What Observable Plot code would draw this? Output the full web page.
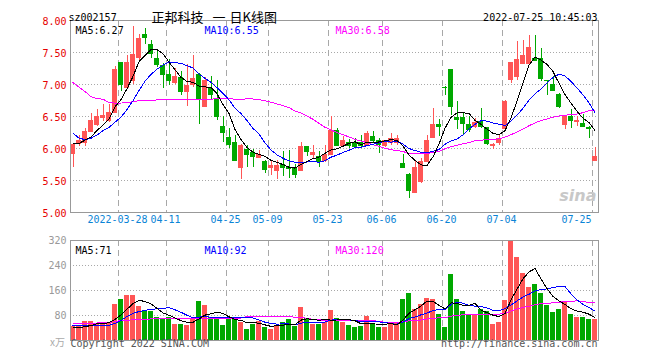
<!DOCTYPE html>
<html><head><meta charset="utf-8">
<script src="https://cdn.jsdelivr.net/npm/d3@7"></script>
<script src="https://cdn.jsdelivr.net/npm/@observablehq/plot@0.6"></script>
<style>
html,body{margin:0;padding:0;background:#fff;}
#wrap{position:relative;width:660px;height:360px;overflow:hidden;background:#fff;}
#wrap svg{position:absolute;left:0;}
#wrap svg rect,#wrap svg line,#wrap svg path{shape-rendering:crispEdges;}
</style></head>
<body><div id="wrap"></div>
<script>
// ---- data ----
const stockCode = "sz002157";
const titleParts = ["正邦科技", "一", "日K线图"];
const timeStamp = "2022-07-25 10:45:03";
const dates = ("03-16 03-17 03-18 03-21 03-22 03-23 03-24 03-25 03-28 03-29 03-30 03-31 " +
  "04-01 04-06 04-07 04-08 04-11 04-12 04-13 04-14 04-15 04-18 04-19 04-20 04-21 04-22 04-25 04-26 04-27 04-28 04-29 " +
  "05-05 05-06 05-09 05-10 05-11 05-12 05-13 05-16 05-17 05-18 05-19 05-20 05-23 05-24 05-25 05-26 05-27 05-30 05-31 " +
  "06-01 06-02 06-06 06-07 06-08 06-09 06-10 06-13 06-14 06-15 06-16 06-17 06-20 06-21 06-22 06-23 06-24 06-27 06-28 06-29 06-30 " +
  "07-01 07-04 07-05 07-06 07-07 07-08 07-11 07-12 07-13 07-14 07-15 07-18 07-19 07-20 07-21 07-22 07-25")
  .split(" ").map(d => "2022-" + d);
const opens = [5.92,6.08,6.10,6.27,6.37,6.49,6.43,6.57,7.35,6.96,
  7.07,7.42,7.78,7.62,7.41,7.29,7.15,7.03,7.11,6.89,
  7.00,7.16,6.65,6.93,6.76,6.34,6.17,6.09,5.71,5.98,
  5.93,5.86,5.79,5.70,5.66,5.75,5.71,5.68,5.65,6.03,
  5.91,5.88,5.82,5.90,6.28,6.05,6.10,6.10,6.10,6.05,
  6.19,6.13,6.05,6.10,6.10,5.76,5.59,5.32,5.48,5.79,
  6.17,6.37,6.96,7.23,6.48,6.48,6.37,6.35,6.42,6.33,
  6.04,6.09,6.31,7.08,7.12,7.33,7.33,7.41,7.41,7.07,
  7.00,6.85,6.38,6.50,6.42,6.39,6.33,5.82];
const highs = [6.08,6.20,6.31,6.55,6.61,6.69,6.68,7.28,7.35,7.46,
  7.91,7.78,7.88,7.69,7.53,7.33,7.39,7.25,7.21,7.31,
  7.46,7.17,7.11,7.13,7.07,6.50,6.31,6.21,6.06,6.04,
  5.98,5.97,5.82,5.82,5.82,5.95,5.97,5.75,6.10,6.03,
  6.04,5.95,6.04,6.50,6.31,6.18,6.14,6.15,6.20,6.27,
  6.27,6.15,6.13,6.24,6.20,5.90,5.61,5.79,5.84,6.21,
  6.62,6.46,6.97,7.23,6.74,6.57,6.50,6.47,6.62,6.33,
  6.08,6.21,6.75,7.34,7.67,7.69,7.77,7.76,7.56,7.07,
  7.13,6.86,6.50,6.61,6.50,6.53,6.35,6.01];
const lows = [5.70,6.03,6.03,6.26,6.35,6.42,6.40,6.55,6.89,6.94,
  7.00,7.38,7.62,7.41,7.26,6.94,6.99,7.00,6.83,6.66,
  6.95,6.38,6.64,6.76,6.44,6.09,6.00,5.79,5.52,5.71,
  5.71,5.85,5.61,5.58,5.51,5.56,5.53,5.53,5.64,5.87,
  5.85,5.71,5.78,5.89,6.03,6.04,6.00,6.00,6.02,6.03,
  6.10,5.92,6.02,6.04,6.05,5.70,5.22,5.30,5.46,5.78,
  6.17,6.18,6.83,6.52,6.29,6.21,6.25,6.31,6.31,6.04,
  5.98,6.05,6.29,7.02,7.06,7.32,7.32,7.37,7.05,6.83,
  6.89,6.63,6.30,6.31,6.34,6.33,6.16,5.81];
const closes = [6.07,6.13,6.27,6.43,6.50,6.51,6.57,7.24,7.00,7.35,
  7.47,7.72,7.73,7.48,7.32,7.15,7.07,7.13,6.89,6.99,
  7.10,6.76,7.07,6.85,6.50,6.25,6.07,5.82,6.05,5.90,
  5.87,5.90,5.67,5.74,5.73,5.71,5.69,5.60,6.03,5.95,
  5.94,5.80,5.91,6.28,6.05,6.13,6.04,6.03,6.05,6.23,
  6.13,6.07,6.12,6.15,6.16,5.71,5.35,5.71,5.79,6.12,
  6.38,6.34,6.95,6.65,6.46,6.39,6.29,6.40,6.35,6.08,
  6.07,6.16,6.74,7.34,7.39,7.46,7.58,7.38,7.09,7.06,
  6.91,6.65,6.50,6.43,6.43,6.35,6.31,5.88];
const volumes = [46,46,61,61,53,51,59,115,131,144,
  144,109,96,93,73,69,73,51,51,48,
  69,126,112,73,73,48,73,69,59,35,
  51,62,43,35,48,59,67,46,106,69,
  51,51,59,96,71,59,48,43,46,78,
  51,43,43,55,55,132,151,99,115,134,
  130,83,43,211,131,94,80,80,99,94,
  51,59,128,317,267,215,171,180,151,113,
  91,99,123,83,74,74,67,67];
// moving-average values before a full window exists
const ma5Head = [6.07,6.08,6.13,6.18];
const ma10Head = [6.24,6.16,6.14,6.16,6.21,6.28,6.33,6.41,6.49];
const ma30Head = [7.03,6.96,6.89,6.81,6.78,6.77,6.72,6.71,6.71,6.72,6.73,6.75,6.75,6.75,6.76,
  6.76,6.76,6.76,6.76,6.76,6.76,6.76,6.77,6.77,6.78,6.78,6.78,6.77,6.76];
const vma5Head = [43,41,44,48];
const vma10Head = [48,47,47,47,47,47,48,55,64];
const vma30Head = [56,56,56,56,56,57,58,60,64,65,66,67,68,69,69,69,69,69,69,70,71,72,72,72,72,72,72,72,72];
const maNames = ["MA5","MA10","MA30"];
const priceMALegend = [6.27, 6.55, 6.58];
const volMALegend = [71, 92, 120];
const priceTicks = [8, 7.5, 7, 6.5, 6, 5.5, 5];
const volTicks = [320, 240, 160, 80];
const tickDates = ["2022-03-28","2022-04-11","2022-04-25","2022-05-09","2022-05-23","2022-06-06","2022-06-20","2022-07-04","2022-07-25"];
const copyright = "Copyright 2022 SINA.COM";
const site = "http://finance.sina.com.cn";
const unitLabel = "x万";
const watermark = "sina";

// ---- build ----
const maColors = ["#000000", "#0000ff", "#ff00ff"];
const UP = "#ff5555", DOWN = "#00a800";
const mono = "'DejaVu Sans Mono', 'Liberation Mono', monospace";
const cjk = "'Noto Sans CJK SC', sans-serif";

function movingAvg(vals, k, head) {
  return vals.map((v, i) => i < k - 1 ? head[i] : d3.mean(vals.slice(i - k + 1, i + 1)));
}
const ma5 = movingAvg(closes, 5, ma5Head), ma10 = movingAvg(closes, 10, ma10Head), ma30 = movingAvg(closes, 30, ma30Head);
const vma5 = movingAvg(volumes, 5, vma5Head), vma10 = movingAvg(volumes, 10, vma10Head), vma30 = movingAvg(volumes, 30, vma30Head);

const rows = dates.map((d, i) => ({
  i, date: d, open: opens[i], high: highs[i], low: lows[i], close: closes[i], vol: volumes[i],
  ma5: ma5[i], ma10: ma10[i], ma30: ma30[i], vma5: vma5[i], vma10: vma10[i], vma30: vma30[i]
}));
const col = d => d.close > d.open ? UP : DOWN;
const half = 5 / 12;
const idx = d => dates.indexOf(d);
const xScale = {type: "linear", domain: [-half, dates.length - half], axis: null};
const lastTick = tickDates[tickDates.length - 1];
const tickText = (d, j) => j === 0 ? d : d.slice(5);
const legendOffsets = [5, 134, 265];
const titleOffsets = [81, 142, 159];

const priceLegend = maNames.map((n, j) => ({text: n + ":" + priceMALegend[j].toFixed(2), color: maColors[j], dx: legendOffsets[j]}));
const volLegend = maNames.map((n, j) => ({text: n + ":" + volMALegend[j], color: maColors[j], dx: legendOffsets[j]}));
const plotStyle = {fontFamily: mono, fontSize: "10px", background: "transparent", overflow: "visible"};

function build() {
  const wrap = document.getElementById("wrap");
  const p = Plot.plot({
    width: 660, height: 232, marginTop: 20, marginBottom: 20, marginLeft: 70, marginRight: 62,
    x: xScale, y: {domain: [5, 8], axis: null},
    style: plotStyle,
    marks: [
      Plot.ruleY(priceTicks.filter(t => t > 5 && t < 8), {stroke: "#a8a8a8", strokeDasharray: "1,2"}),
      Plot.ruleX(tickDates, {x: d => idx(d) - half, stroke: "#a8a8a8", strokeDasharray: "6,4"}),
      Plot.text([watermark], {text: d => d, frameAnchor: "bottom-right", textAnchor: "end", dx: -2, dy: -12, fill: "#c8c8c8", fontSize: 16, fontWeight: "bold", fontStyle: "italic", fontFamily: "'DejaVu Sans', sans-serif"}),
      Plot.ruleX(rows, {x: "i", y1: "low", y2: "high", stroke: col}),
      Plot.rect(rows, {x1: d => d.i - half, x2: d => d.i + half, y1: d => Math.min(d.open, d.close), y2: d => Math.max(d.open, d.close), fill: col}),
      Plot.ruleY(rows, {y: "open", x1: d => d.i - half, x2: d => d.i + half, stroke: col}),
      Plot.ruleY(rows, {y: "close", x1: d => d.i - half, x2: d => d.i + half, stroke: col}),
      Plot.line(rows, {x: "i", y: "ma30", stroke: maColors[2], strokeWidth: 1}),
      Plot.line(rows, {x: "i", y: "ma10", stroke: maColors[1], strokeWidth: 1}),
      Plot.line(rows, {x: "i", y: "ma5", stroke: maColors[0], strokeWidth: 1}),
      Plot.frame({stroke: "#999"}),
      Plot.text(priceTicks, {y: d => d, text: d => d.toFixed(2), frameAnchor: "left", textAnchor: "end", dx: -4, dy: 1.5, fill: "#e60000"}),
      Plot.text(tickDates.filter(d => d !== lastTick), {x: d => idx(d) - half, text: tickText, frameAnchor: "bottom", dx: -1, dy: 10, fill: "#0a84d6"}),
      Plot.text([lastTick], {x: d => idx(d) - half, text: d => d.slice(5), frameAnchor: "bottom", textAnchor: "end", dx: -1, dy: 10, fill: "#0a84d6"}),
      ...priceLegend.map(it => Plot.text([it.text], {text: d => d, frameAnchor: "top-left", textAnchor: "start", dx: it.dx, dy: 6, fill: it.color})),
      Plot.text([stockCode], {text: d => d, frameAnchor: "top-left", textAnchor: "start", dx: -2, dy: -6.5, fill: "#000"}),
      ...titleParts.map((t, j) => Plot.text([t], {text: d => d, frameAnchor: "top-left", textAnchor: "start", dx: titleOffsets[j], dy: -8, fill: "#000", fontFamily: cjk, fontSize: 13})),
      Plot.text([timeStamp], {text: d => d, frameAnchor: "top-right", textAnchor: "end", dx: -1, dy: -6.5, fill: "#000"})
    ]
  });
  const v = Plot.plot({
    width: 660, height: 130, marginTop: 10, marginBottom: 20, marginLeft: 70, marginRight: 62,
    x: xScale, y: {domain: [0, 320], axis: null},
    style: plotStyle,
    marks: [
      Plot.ruleY(volTicks.filter(t => t < 320), {stroke: "#a8a8a8", strokeDasharray: "1,2"}),
      Plot.ruleX(tickDates, {x: d => idx(d) - half, stroke: "#a8a8a8", strokeDasharray: "6,4"}),
      Plot.rect(rows, {x1: d => d.i - half, x2: d => d.i + half, y1: 0, y2: "vol", fill: col}),
      Plot.line(rows, {x: "i", y: "vma30", stroke: maColors[2], strokeWidth: 1}),
      Plot.line(rows, {x: "i", y: "vma10", stroke: maColors[1], strokeWidth: 1}),
      Plot.line(rows, {x: "i", y: "vma5", stroke: maColors[0], strokeWidth: 1}),
      Plot.frame({stroke: "#999"}),
      Plot.text(volTicks, {y: d => d, text: d => String(d), frameAnchor: "left", textAnchor: "end", dx: -4, dy: 0.5, fill: "#999"}),
      ...volLegend.map(it => Plot.text([it.text], {text: d => d, frameAnchor: "top-left", textAnchor: "start", dx: it.dx, dy: 6, fill: it.color})),
      Plot.text([unitLabel], {text: d => d, frameAnchor: "bottom-left", textAnchor: "middle", dx: -13, dy: 5, fill: "#aaa", fontFamily: cjk, fontSize: 10}),
      Plot.text([copyright], {text: d => d, frameAnchor: "bottom-left", textAnchor: "start", dy: 6, fill: "#555"}),
      Plot.text([site], {text: d => d, frameAnchor: "bottom-right", textAnchor: "end", dx: -1, dy: 6, fill: "#555"})
    ]
  });
  p.style.top = "0px";
  v.style.top = "230px";
  wrap.appendChild(p);
  wrap.appendChild(v);
}
build();
</script>
</body></html>
